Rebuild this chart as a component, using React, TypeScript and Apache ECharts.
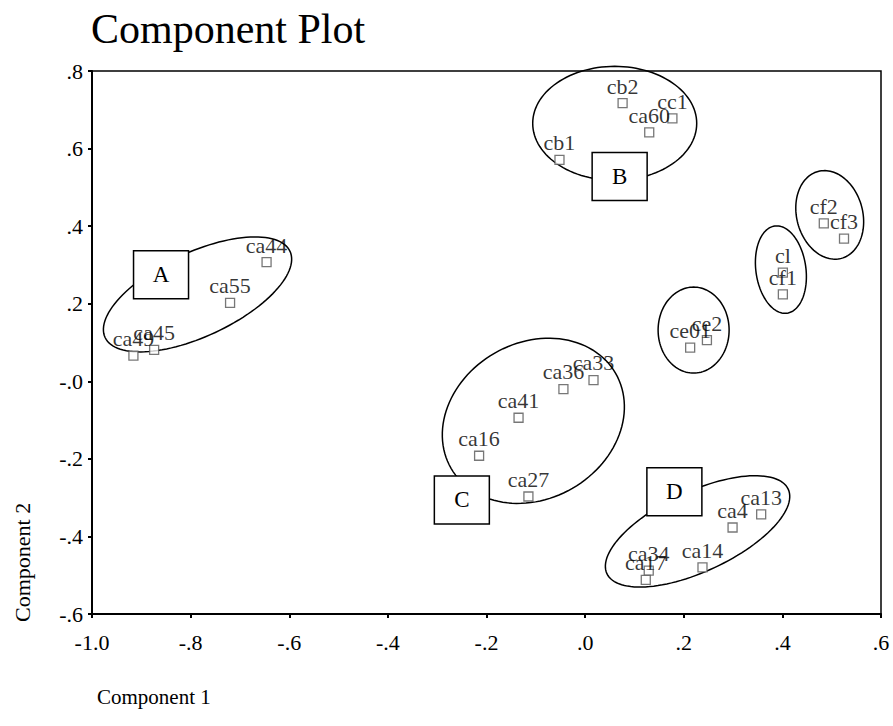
import React, { useEffect, useRef } from "react";
import * as echarts from "echarts";

// ---- data ----
const POINT_NAMES = [
  "cb2", "cc1", "ca60", "cb1",
  "cf2", "cf3", "cl", "cf1",
  "ce01", "ce2",
  "ca44", "ca55", "ca49", "ca45",
  "ca36", "ca33", "ca41", "ca16", "ca27",
  "ca13", "ca4", "ca14", "ca34", "ca17",
];
const COMPONENT_1 = [
  0.076, 0.177, 0.130, -0.052,
  0.484, 0.525, 0.401, 0.401,
  0.213, 0.247,
  -0.646, -0.720, -0.916, -0.874,
  -0.044, 0.017, -0.135, -0.215, -0.115,
  0.357, 0.299, 0.238, 0.129, 0.123,
];
const COMPONENT_2 = [
  0.717, 0.678, 0.642, 0.571,
  0.407, 0.368, 0.280, 0.224,
  0.087, 0.106,
  0.307, 0.202, 0.066, 0.081,
  -0.020, 0.003, -0.094, -0.192, -0.297,
  -0.343, -0.377, -0.480, -0.488, -0.512,
];

const X_TICK_LABELS = ["-1.0", "-.8", "-.6", "-.4", "-.2", ".0", ".2", ".4", ".6"];
const Y_TICK_LABELS = ["-.6", "-.4", "-.2", "-.0", ".2", ".4", ".6", ".8"];

const BOX_LABELS = ["A", "B", "C", "D"];
const BOX_X = [-0.860, 0.070, -0.250, 0.181];
const BOX_Y = [0.275, 0.528, -0.306, -0.285];

// group ellipse centres (data units)
const ELLIPSE_X = [-0.786, 0.060, 0.496, 0.397, 0.220, -0.105, 0.228];
const ELLIPSE_Y = [0.224, 0.665, 0.429, 0.288, 0.132, -0.102, -0.387];

// ---- styling of annotations (pixels / degrees) ----
const ELLIPSE_STYLE = [
  { a: 102, b: 42, rot: 25 },
  { a: 82, b: 57, rot: 0 },
  { a: 33, b: 45, rot: 15 },
  { a: 25, b: 44, rot: 8 },
  { a: 35.5, b: 43, rot: 0 },
  { a: 95, b: 78, rot: 30 },
  { a: 100, b: 40, rot: 25 },
];

const FONT = '"Liberation Serif", "Times New Roman", serif';

export default function App() {
  const ref = useRef<HTMLDivElement>(null);

  useEffect(() => {
    if (!ref.current) return;
    const chart = echarts.init(ref.current, undefined, { renderer: "svg" });

    const XMIN = -1.0;
    const YMIN = -0.6;

    const option: any = {
      animation: false,
      backgroundColor: "#fff",
      title: {
        text: "Component Plot",
        left: 86,
        top: 3,
        textStyle: { fontFamily: FONT, fontSize: 42, fontWeight: "normal", color: "#000" },
      },
      grid: {
        left: 92,
        right: 12,
        top: 71,
        bottom: 112,
        show: true,
        borderColor: "#000",
        borderWidth: 1.5,
        backgroundColor: "transparent",
      },
      xAxis: {
        type: "value",
        min: XMIN,
        max: 0.6,
        interval: 0.2,
        splitLine: { show: false },
        axisLine: { show: true, onZero: false, lineStyle: { color: "#000", width: 2 } },
        axisTick: { show: true, inside: false, length: 4, lineStyle: { color: "#000", width: 2 } },
        axisLabel: {
          margin: 17,
          color: "#000",
          fontFamily: FONT,
          fontSize: 22,
          showMinLabel: true,
          showMaxLabel: true,
          formatter: (v: number) => X_TICK_LABELS[Math.round((v - XMIN) / 0.2)] ?? "",
        },
      },
      yAxis: {
        type: "value",
        min: YMIN,
        max: 0.8,
        interval: 0.2,
        splitLine: { show: false },
        axisLine: { show: true, onZero: false, lineStyle: { color: "#000", width: 2 } },
        axisTick: { show: true, inside: false, length: 4, lineStyle: { color: "#000", width: 2 } },
        axisLabel: {
          margin: 9,
          color: "#000",
          fontFamily: FONT,
          fontSize: 22,
          showMinLabel: true,
          showMaxLabel: true,
          formatter: (v: number) => Y_TICK_LABELS[Math.round((v - YMIN) / 0.2)] ?? "",
        },
      },
      graphic: [
        {
          type: "text",
          left: 97,
          top: 686,
          style: { text: "Component 1", fontFamily: FONT, fontSize: 21, fill: "#000" },
        },
        {
          type: "text",
          x: 22,
          y: 622,
          rotation: Math.PI / 2,
          style: {
            text: "Component 2",
            fontFamily: FONT,
            fontSize: 22,
            fill: "#000",
            textAlign: "left",
            textVerticalAlign: "middle",
            align: "left",
            verticalAlign: "middle",
          },
        },
      ],
      series: [
        {
          type: "custom",
          name: "groups",
          clip: false,
          z: 1,
          data: ELLIPSE_X.map((x, i) => [x, ELLIPSE_Y[i]]),
          renderItem: (params: any, api: any) => {
            const c = api.coord([api.value(0), api.value(1)]);
            const e = ELLIPSE_STYLE[params.dataIndex];
            const th = (-e.rot * Math.PI) / 180;
            const pts: number[][] = [];
            const N = 120;
            for (let k = 0; k < N; k++) {
              const t = (k / N) * Math.PI * 2;
              const ex = e.a * Math.cos(t);
              const ey = e.b * Math.sin(t);
              pts.push([
                c[0] + ex * Math.cos(th) - ey * Math.sin(th),
                c[1] + ex * Math.sin(th) + ey * Math.cos(th),
              ]);
            }
            return {
              type: "polygon",
              shape: { points: pts },
              style: { fill: "none", stroke: "#000", lineWidth: 1.5 },
            };
          },
        },
        {
          type: "scatter",
          name: "loadings",
          z: 3,
          symbol: "rect",
          symbolSize: 9,
          itemStyle: { color: "#fff", borderColor: "#555", borderWidth: 1.3 },
          label: {
            show: true,
            position: "top",
            distance: 1,
            formatter: (p: any) => p.name,
            fontFamily: FONT,
            fontSize: 22,
            color: "#000",
          },
          data: POINT_NAMES.map((n, i) => ({ name: n, value: [COMPONENT_1[i], COMPONENT_2[i]] })),
        },
        {
          type: "custom",
          name: "boxes",
          clip: false,
          z: 5,
          data: BOX_X.map((x, i) => [x, BOX_Y[i]]),
          renderItem: (params: any, api: any) => {
            const c = api.coord([api.value(0), api.value(1)]);
            const w = 55;
            const h = 48;
            return {
              type: "group",
              children: [
                {
                  type: "rect",
                  shape: { x: c[0] - w / 2, y: c[1] - h / 2, width: w, height: h },
                  style: { fill: "#fff", stroke: "#000", lineWidth: 1.5 },
                },
                {
                  type: "text",
                  x: c[0],
                  y: c[1],
                  style: {
                    text: BOX_LABELS[params.dataIndex],
                    fontFamily: FONT,
                    fontSize: 23,
                    fill: "#000",
                    textAlign: "center",
                    textVerticalAlign: "middle",
                    align: "center",
                    verticalAlign: "middle",
                  },
                },
              ],
            };
          },
        },
      ],
    };

    chart.setOption(option);
    return () => chart.dispose();
  }, []);

  return (
    <div
      ref={ref}
      style={{ position: "fixed", left: 0, top: 0, width: 893, height: 726, background: "#fff" }}
    />
  );
}
